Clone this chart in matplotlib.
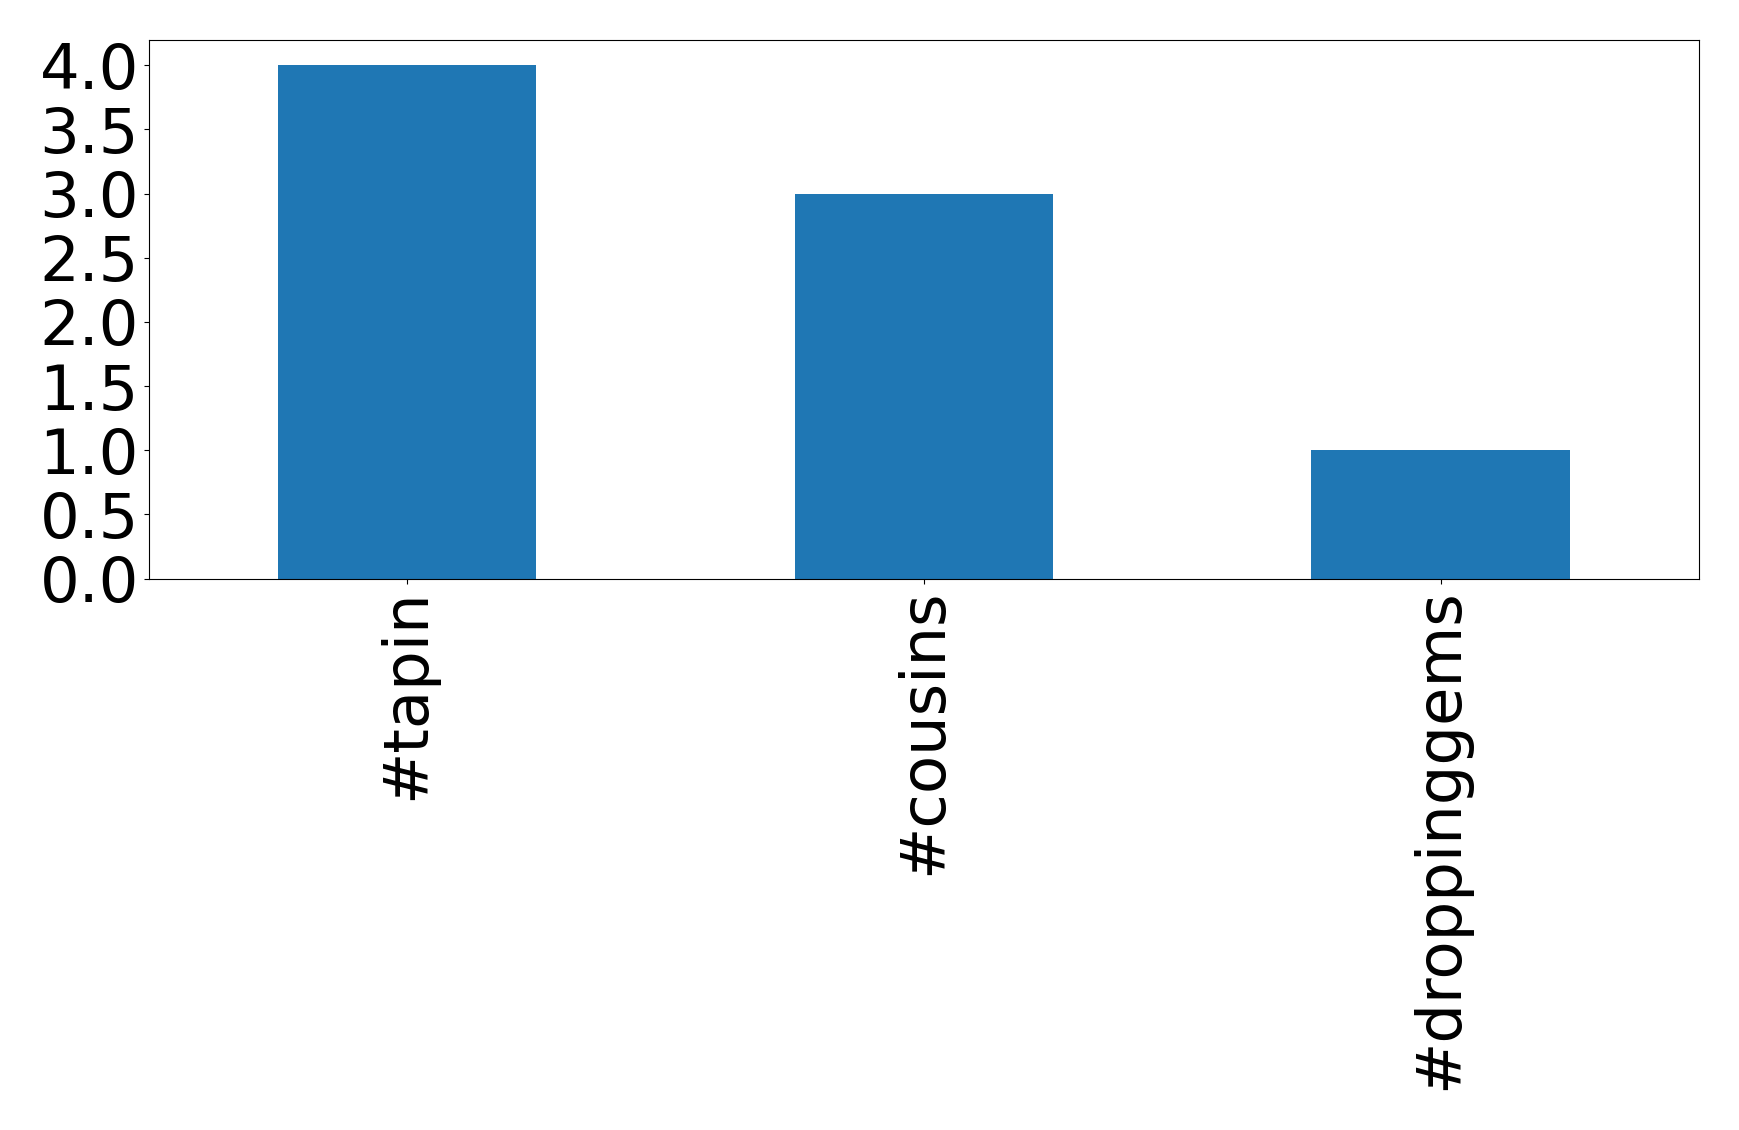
import matplotlib
matplotlib.use("Agg")
import matplotlib.pyplot as plt
import pandas as pd

hashtags = ["#tapin", "#cousins", "#droppinggems"]
counts = [4, 3, 1]

s = pd.Series(counts, index=hashtags)

fig = plt.figure(figsize=(17.39, 11.30), dpi=100)
ax = fig.add_axes([0.0855, 0.488, 0.8915, 0.477])
s.plot(kind="bar", ax=ax, color="#1f77b4", fontsize=45)

plt.savefig("out.png", dpi=100)
